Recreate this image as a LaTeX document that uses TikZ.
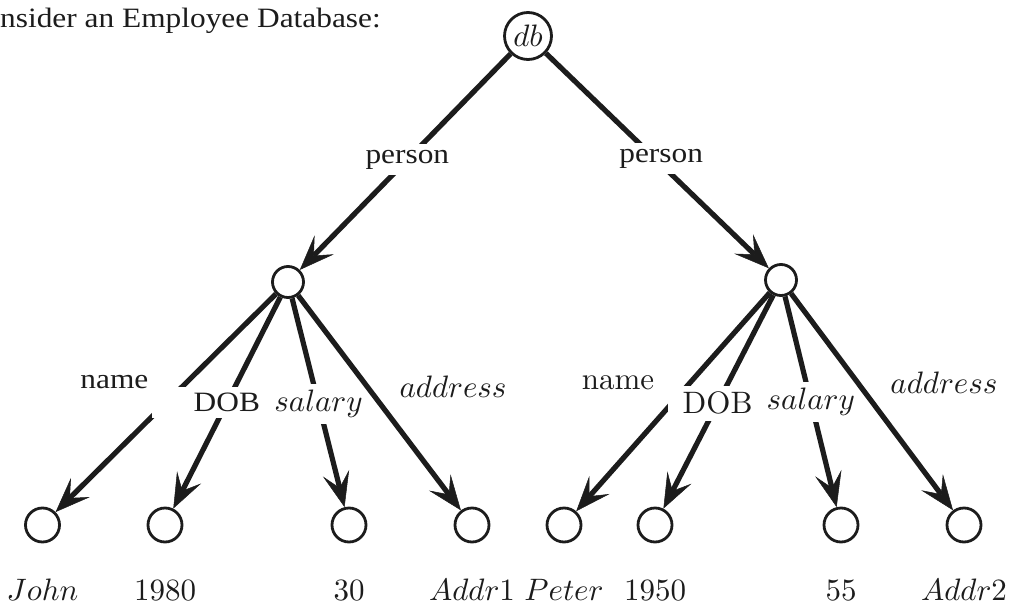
\documentclass[tikz,border=0pt]{standalone}
\usepackage{fontspec}
\setmainfont{lmroman10-regular}[Extension=.otf, ItalicFont=lmroman10-italic]
\newfontfamily\scanfont[FakeStretch=1.12]{Liberation Serif}
\DeclareFontFamily{OML}{cmmx}{\skewchar\font'177}
\DeclareFontShape{OML}{cmmx}{m}{it}{<->cmmi10}{}
\DeclareSymbolFont{letters}{OML}{cmmx}{m}{it}
\usepackage{tikz}
\usetikzlibrary{arrows.meta,positioning}
\definecolor{ink}{HTML}{1C1C1C}

\begin{document}
\begin{tikzpicture}[
  x=1pt, y=-1pt,
  every node/.style={font=\fontsize{31}{36}\selectfont, text=ink},
  scan/.style={font=\scanfont\fontsize{28}{34}\selectfont},
  dbnode/.style={circle, draw=ink, line width=2.8pt, minimum size=47pt, inner sep=0pt},
  pnode/.style={circle, draw=ink, line width=2.8pt, minimum size=31pt, inner sep=0pt},
  leaf/.style={circle, draw=ink, line width=2.8pt, minimum size=34pt, inner sep=0pt},
  val/.style={label distance=36pt, inner sep=0pt, text height=21pt, text depth=7pt},
  arr/.style={-{Stealth[length=35pt, width=27pt, inset=15pt, line width=0.5pt]},
              line width=5.2pt, draw=ink},
  cut/.style={fill=white, inner sep=6pt},
  side/.style={inner sep=2pt},
]
\useasboundingbox (0,0) rectangle (1009,610);

% Caption
\node[scan, anchor=base west, inner sep=0pt] (caption) at (0,28)
  {nsider an Employee Database:};

% Root and the two persons
\node[dbnode] (db) at (528,36) {$db$};
\node[pnode] (p1) at (288,282) {};
\node[pnode] (p2) at (781,280) {};

% Leaves
\node[leaf, label={[val]below:$John$}] (l1) at (42.5,525) {};
\node[leaf, label={[val]below:1980}] (l2) at (165,525) {};
\node[leaf, label={[val]below:30}] (l3) at (349,525) {};
\node[leaf, label={[val]below:$Addr$1}] (l4) at (472,525) {};
\node[leaf, label={[val]below:$Peter$}] (r1) at (564,525) {};
\node[leaf, label={[val]below:1950}] (r2) at (655,525) {};
\node[leaf, label={[val]below:55}] (r3) at (841,525) {};
\node[leaf, label={[val]below:$Addr$2}] (r4) at (964,525) {};

% Arrows
\draw[arr] (db) -- node[cut, scan, pos=0.49] {person} (p1);
\draw[arr] (db) -- node[cut, scan, pos=0.49, xshift=6pt] {person} (p2);

\draw[arr] (p1) -- node[side, scan, pos=0.404, left=34pt] {name} (l1);
\draw[arr] (p1) -- node[cut, scan, pos=0.5, inner xsep=42pt] {DOB} (l2);
\draw[arr] (p1) -- node[cut, pos=0.505] {$salary$} (l3);
\draw[arr] (p1) -- node[side, pos=0.426, right=27.5pt] {$address$} (l4);

\draw[arr] (p2) -- node[side, pos=0.413, left=31pt] {name} (r1);
\draw[arr] (p2) -- node[cut, pos=0.507, inner xsep=15pt] {DOB} (r2);
\draw[arr] (p2) -- node[cut, pos=0.5] {$salary$} (r3);
\draw[arr] (p2) -- node[side, pos=0.412, right=28pt] {$address$} (r4);

\end{tikzpicture}
\end{document}
